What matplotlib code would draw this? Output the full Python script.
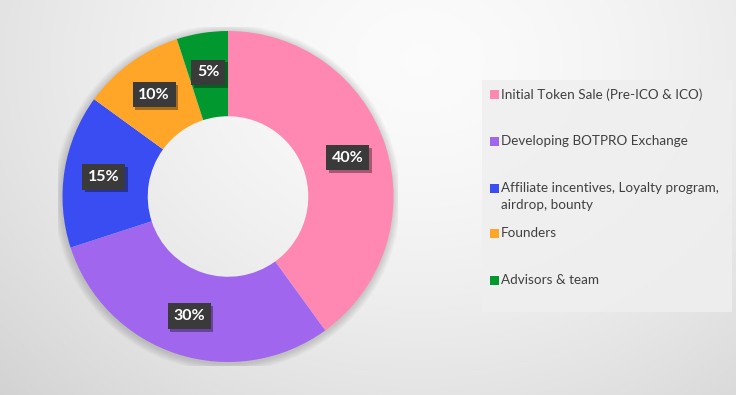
import numpy as np
import matplotlib
matplotlib.use("Agg")
import matplotlib.pyplot as plt
from matplotlib.patches import Rectangle, Wedge
from matplotlib import patheffects as pe

categories = ["Initial Token Sale (Pre-ICO & ICO)",
              "Developing BOTPRO Exchange",
              "Affiliate incentives, Loyalty program,\nairdrop, bounty",
              "Founders",
              "Advisors & team"]
values = [40, 30, 15, 10, 5]
colors = ["#FF88B2", "#A067EE", "#3A4DF2", "#FFA628", "#01992F"]

plt.rcParams['font.family'] = ['Lato', 'DejaVu Sans']

W, H = 736, 395
fig = plt.figure(figsize=(W / 100, H / 100), dpi=100)

# background radial gradient
bg = fig.add_axes([0, 0, 1, 1])
yy, xx = np.mgrid[0:H, 0:W]
d = np.sqrt(((xx - 420) / 520.0) ** 2 + ((yy - 60) / 420.0) ** 2)
shade = 0.985 - 0.13 * np.clip(d, 0, 1.3) ** 1.6
bg.imshow(np.dstack([shade] * 3), extent=[0, W, H, 0], aspect='auto')
bg.set_xlim(0, W)
bg.set_ylim(H, 0)
bg.axis('off')

# legend box
bg.add_patch(Rectangle((482, 80), 250, 232, facecolor="#efefef", edgecolor='none', alpha=0.85))

# donut
cx, cy, R = 228, 196.5, 165.5
ax = fig.add_axes([(cx - 170) / W, (H - cy - 170) / H, 340 / W, 340 / H])
# soft shadow just outside the ring
for k in range(8):
    r_out = 1.0 + 0.006 * (k + 1)
    ax.add_patch(Wedge((-0.004, -0.008), r_out, 0, 360, width=r_out - 0.98,
                       facecolor='black', edgecolor='none', alpha=0.02, zorder=0))
wedges, texts, autotexts = ax.pie(
    values, colors=colors, startangle=90, counterclock=False,
    radius=1.0, wedgeprops=dict(width=0.515, edgecolor='none'),
    autopct='%d%%', pctdistance=0.76,
    textprops=dict(color='white', fontsize=11.5, fontweight='bold'))
for t in autotexts:
    t.set_bbox(dict(boxstyle='square,pad=0.36', facecolor='#3a3a3a', edgecolor='none'))
    t.get_bbox_patch().set_path_effects(
        [pe.withSimplePatchShadow(offset=(2, -2), shadow_rgbFace='black', alpha=0.35)])
lim = 340 / (2 * R)
ax.set_xlim(-lim, lim)
ax.set_ylim(-lim, lim)
ax.set_aspect('equal')
ax.axis('off')

# legend entries (Excel-like layout)
ys = [94.5, 141, 188, 233, 280]
for lab, col, y in zip(categories, colors, ys):
    bg.add_patch(Rectangle((489.5, y - 4.5), 9, 9, facecolor=col, edgecolor='none'))
    for i, line in enumerate(lab.split('\n')):
        bg.text(501, y + 17 * i, line, va='center', ha='left', fontsize=9.7, color='#404040')

fig.savefig("out.png", dpi=100)
